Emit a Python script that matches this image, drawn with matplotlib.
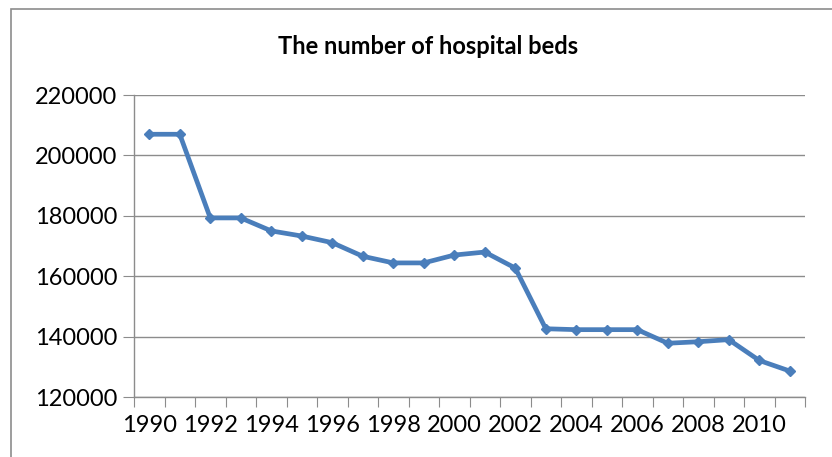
import matplotlib.pyplot as plt
from matplotlib.patches import Rectangle

# Hospital beds per year
years = list(range(1990, 2012))
beds = [207000, 207000, 179300, 179300, 175000, 173300, 171100, 166600,
        164400, 164400, 167000, 168000, 162700, 142600, 142300, 142300,
        142300, 137800, 138300, 139000, 132100, 128600]
y_ticks = [120000, 140000, 160000, 180000, 200000, 220000]

plt.rcParams['font.family'] = ['Lato', 'DejaVu Sans']

fig = plt.figure(figsize=(8.32, 4.57), dpi=100)
ax = fig.add_axes([134 / 832, 1 - 397 / 457, 671 / 832, 302 / 457])

# outer chart border (only left/top visible in the crop)
fig.patches.append(Rectangle((10.6 / 832, -0.2), 1.2, 1.2 - 9.3 / 457,
                             transform=fig.transFigure, fill=False,
                             edgecolor='#8c8c8c', lw=1.2))

x = list(range(len(years)))
ax.plot(x, beds, color='#4A7EBB', lw=3.4, marker='D', ms=5,
        markerfacecolor='#4A7EBB', markeredgecolor='#4A7EBB',
        solid_joinstyle='round', zorder=3)

ax.set_xlim(-0.5, len(years) - 0.5)
ax.set_ylim(120000, 220000)
ax.set_yticks(y_ticks)
ax.set_yticklabels([str(v) for v in y_ticks])
ax.yaxis.grid(True, color='#8c8c8c', lw=1)
ax.set_axisbelow(True)

# category tick marks between points, labels every two years
ax.set_xticks([i - 0.5 for i in range(len(years) + 1)])
ax.set_xticklabels([])
ax.set_xticks([i for i in x if years[i] % 2 == 0], minor=True)
ax.set_xticklabels([str(years[i]) for i in x if years[i] % 2 == 0], minor=True)
ax.tick_params(axis='x', which='major', length=7, color='#8c8c8c', direction='out')
ax.tick_params(axis='x', which='minor', length=0, labelsize=17, pad=13)
ax.tick_params(axis='y', length=8, color='#8c8c8c', labelsize=17, pad=4)

for s in ['top', 'right']:
    ax.spines[s].set_visible(False)
for s in ['left', 'bottom']:
    ax.spines[s].set_color('#8c8c8c')
    ax.spines[s].set_linewidth(1)

fig.text(428 / 832, 1 - 46.7 / 457, 'The number of hospital beds',
         ha='center', va='center', fontsize=17, fontweight='bold')

fig.savefig('out.png', dpi=100)
